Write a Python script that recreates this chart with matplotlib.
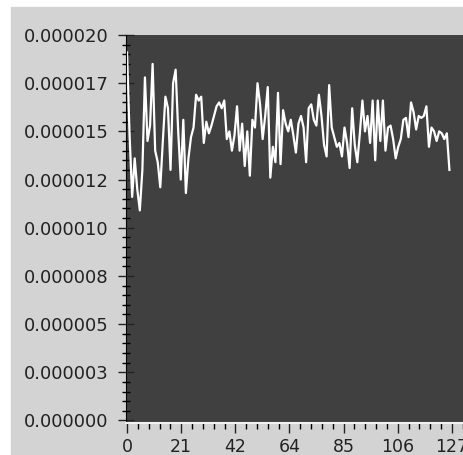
import numpy as np
import matplotlib
matplotlib.use("Agg")
import matplotlib.pyplot as plt
from matplotlib.patches import Rectangle
from matplotlib.ticker import FixedLocator, MultipleLocator

# values, in units of 1e-6
values = [
    19.1, 14.8, 11.6, 13.6, 12.0, 10.9, 13.0, 17.8, 14.5, 15.3,
    18.5, 14.0, 13.4, 12.1, 14.5, 16.8, 16.2, 13.0, 17.5, 18.2,
    15.0, 12.5, 15.6, 11.8, 13.6, 14.7, 15.2, 16.9, 16.6, 16.8,
    14.4, 15.5, 14.9, 15.3, 15.8, 16.3, 16.5, 16.2, 16.6, 14.6,
    15.0, 14.0, 14.8, 16.3, 14.0, 15.4, 13.2, 15.0, 12.7, 15.6,
    15.2, 17.5, 16.4, 14.6, 15.8, 17.3, 12.6, 14.2, 13.4, 17.0,
    13.3, 16.1, 15.4, 15.0, 15.6, 14.8, 13.9, 15.4, 15.8, 15.2,
    13.4, 16.2, 16.4, 15.6, 15.3, 16.9, 15.8, 14.3, 13.7, 17.4,
    15.2, 14.7, 14.2, 14.4, 13.7, 15.2, 14.4, 13.1, 16.2, 14.3,
    13.4, 14.9, 16.6, 15.0, 15.8, 14.4, 16.6, 13.5, 16.6, 14.5,
    16.6, 14.0, 15.2, 15.3, 14.6, 13.6, 14.2, 14.6, 15.6, 15.7,
    14.7, 16.5, 16.0, 15.1, 15.8, 15.7, 15.8, 16.3, 14.2, 15.2,
    15.0, 14.5, 15.0, 14.9, 14.6, 14.9, 13.0,
]
x_ticks = [0, 21, 42, 64, 85, 106, 127]
y_tick_labels = ["0.000000", "0.000003", "0.000005", "0.000008", "0.000010",
                 "0.000012", "0.000015", "0.000017", "0.000020"]

y = np.array(values) * 1e-6
x = np.arange(len(y))

W, H = 464, 455
fig = plt.figure(figsize=(W / 100, H / 100), dpi=100, facecolor="white")
fig.patches.append(Rectangle((11 / W, 0), 1 - 11 / W, (H - 7) / H,
                             transform=fig.transFigure, color="#d3d3d3", zorder=-1))

ax = fig.add_axes([126 / W, (H - 423) / H, 1 - 126 / W, (423 - 35) / H])
ax.set_facecolor("#404040")
ax.plot(x, y, color="white", lw=1.6)

ax.set_xlim(-0.4, 131.7)
ax.set_ylim(-0.13e-6, 20e-6)

ax.xaxis.set_major_locator(FixedLocator(np.linspace(0, 127, 7)))
ax.set_xticklabels([str(t) for t in x_ticks])
ax.xaxis.set_minor_locator(MultipleLocator(127 / 30))
ax.yaxis.set_major_locator(FixedLocator(np.linspace(0, 20e-6, 9)))
ax.set_yticklabels(y_tick_labels)
ax.yaxis.set_minor_locator(MultipleLocator(0.5e-6))

for s in ("top", "right"):
    ax.spines[s].set_visible(False)
ax.spines["left"].set_color("black")
ax.spines["bottom"].set_color("#f2f2f2")
ax.spines["bottom"].set_linewidth(1.5)

ax.tick_params(axis="y", which="major", direction="inout", length=11, width=1,
               pad=7, labelsize=13, colors="#222222")
ax.tick_params(axis="y", which="minor", direction="inout", length=6, width=1)
ax.tick_params(axis="x", which="major", direction="out", length=7.5, width=1,
               pad=3.5, labelsize=12.5, colors="#222222")
ax.tick_params(axis="x", which="minor", direction="out", length=4, width=1)

fig.savefig("out.png", dpi=100, facecolor=fig.get_facecolor())
